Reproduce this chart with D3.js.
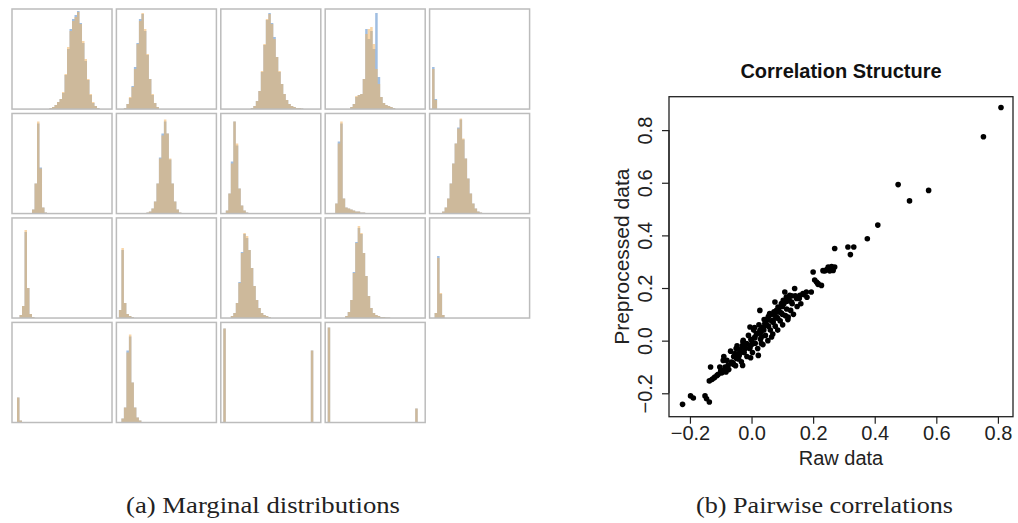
<!DOCTYPE html>
<html>
<head>
<meta charset="utf-8">
<script src="https://cdn.jsdelivr.net/npm/d3@7"></script>
<style>
  body { margin: 0; background: #fff; }
  svg { display: block; }
</style>
</head>
<body>
<script>
// ---- data ----
// marginal histograms: 19 panels, 40 bins each, [first bin, heights in % of panel]
var orangeHist = [
  [15, [1,2,4,7,10,17,35,62,78,88,92,97,85,68,50,30,15,7,3,1]],
  [3,  [1,5,12,22,40,65,88,96,80,55,30,15,6,2]],
  [12, [1,3,8,18,38,65,90,95,85,70,52,38,25,15,9,5,3,2,1,1,0.5]],
  [10, [2,5,13,14,15,30,75,80,82,65,40,25,12,6,4,3,2,1]],
  [1,  [40,9]],
  [8,  [4,30,92,45,6,1]],
  [12, [1,2,5,12,30,55,78,94,80,55,30,12,4,1]],
  [2,  [3,20,50,92,70,25,8,3,1]],
  [4,  [10,70,92,15,6,5,4,3,2,2,1,1,0.5]],
  [5,  [2,6,15,30,50,70,85,95,75,55,35,20,10,5,2,1,0.5]],
  [3,  [3,12,88,30,4,1]],
  [1,  [8,70,15,4,2,1]],
  [4,  [2,5,15,35,65,85,82,68,50,32,18,10,5,3,2,1]],
  [8,  [2,6,18,45,75,92,85,65,42,22,10,5,3,2,1,1,0.5,0.5]],
  [2,  [5,60,25,3]],
  [2,  [25,2]],
  [2,  [4,15,70,88,40,15,5,2]],
  [1,  [94,0,0,0,0,0,0,0,0,0,0,0,0,0,0,0,0,0,0,0,0,0,0,0,0,0,0,0,0,0,0,0,0,0,0,72]],
  [1,  [95,0,0,0,0,0,0,0,0,0,0,0,0,0,0,0,0,0,0,0,0,0,0,0,0,0,0,0,0,0,0,0,0,0,0,14]]
];
var blueHist = [
  [15, [1,2,4,7,10,16,34,60,80,90,94,98,86,66,48,29,14,6,3,1]],
  [3,  [1,5,11,23,42,66,90,95,78,54,30,14,6,2]],
  [12, [1,3,8,18,37,64,89,96,86,72,52,37,25,15,9,5,3,2,1,1,0.5]],
  [10, [2,5,12,14,15,30,80,70,78,60,96,32,12,6,4,3,2,1]],
  [1,  [42,10]],
  [8,  [4,30,90,46,6,1]],
  [12, [1,2,5,12,30,56,80,92,80,54,30,12,4,1]],
  [2,  [3,20,52,92,68,25,8,3,1]],
  [4,  [10,72,90,15,6,5,4,3,2,2,1,1,0.5]],
  [5,  [2,6,15,30,50,70,86,94,74,55,35,20,10,5,2,1,0.5]],
  [3,  [3,12,86,30,4,1]],
  [1,  [8,68,15,4,2,1]],
  [4,  [2,5,15,36,66,84,80,68,50,32,18,10,5,3,2,1]],
  [8,  [2,6,18,46,76,90,84,65,42,22,10,5,3,2,1,1,0.5,0.5]],
  [2,  [5,62,24,3]],
  [2,  [25,2]],
  [2,  [4,15,72,86,40,15,5,2]],
  [1,  [94,0,0,0,0,0,0,0,0,0,0,0,0,0,0,0,0,0,0,0,0,0,0,0,0,0,0,0,0,0,0,0,0,0,0,72]],
  [1,  [95,0,0,0,0,0,0,0,0,0,0,0,0,0,0,0,0,0,0,0,0,0,0,0,0,0,0,0,0,0,0,0,0,0,0,14]]
];

// pairwise correlations (171 pairs): raw vs preprocessed
var rawCor = [
  0.810, 0.753, 0.476, 0.575, 0.513, 0.410, 0.376, 0.313, 0.332, 0.321, 0.205, 0.216,
  -0.224, -0.198, -0.189, -0.151, -0.146, -0.137, -0.133, -0.137, -0.128, -0.119, -0.108, -0.097,
  -0.092, -0.083, -0.103, -0.092, -0.076, -0.065, -0.059, -0.049, -0.054, -0.040, -0.032, -0.029,
  -0.022, -0.027, -0.016, -0.005, 0.000, -0.005, -0.003, 0.022, 0.005, 0.011, 0.018, 0.027,
  0.027, 0.032, 0.038, 0.043, 0.049, 0.054, 0.059, 0.065, 0.032, 0.070, 0.076, 0.081,
  0.076, 0.086, 0.092, 0.097, 0.103, 0.108, 0.119, 0.113, 0.124, 0.130, 0.140, 0.146,
  0.157, 0.167, 0.178, 0.194, 0.200, 0.211, 0.216, 0.227, 0.238, 0.249, 0.259, 0.270,
  0.270, 0.254, 0.265,
  -0.090, -0.086, -0.080, -0.074, -0.068, -0.064, -0.058, -0.052, -0.047, -0.042, -0.038, -0.033,
  -0.028, -0.024, -0.019, -0.015, -0.010, -0.006, -0.002, 0.003, 0.007, 0.012, 0.016, 0.020,
  0.024, 0.029, 0.033, 0.037, 0.041, 0.045, 0.049, 0.053, 0.057, 0.061, 0.065, 0.069,
  0.073, 0.077, 0.081, 0.085, 0.089, 0.093, 0.097, 0.101, 0.105, 0.110, 0.114, 0.118,
  0.122, 0.127, 0.132, 0.136, 0.142, 0.148, 0.155, 0.160, 0.170, 0.180, -0.100, -0.112,
  -0.122, -0.060, -0.045, -0.020, 0.000, 0.010, 0.040, 0.055, 0.070, 0.085, 0.100, 0.010,
  0.030, 0.050, 0.065, 0.085, 0.100, 0.115, 0.130, -0.030, -0.050, 0.244, 0.252, 0.232,
  0.260
];
var preCor = [
  0.886, 0.775, 0.593, 0.571, 0.531, 0.439, 0.387, 0.356, 0.356, 0.327, 0.230, 0.217,
  -0.242, -0.210, -0.218, -0.210, -0.221, -0.233, -0.100, -0.153, -0.147, -0.138, -0.128, -0.123,
  -0.113, -0.119, -0.100, -0.075, -0.094, -0.081, -0.090, -0.068, -0.049, -0.056, -0.043, -0.094,
  -0.030, 0.001, -0.011, -0.024, 0.001, 0.052, -0.065, -0.056, -0.011, 0.014, 0.027, 0.039,
  0.115, 0.014, 0.052, 0.065, 0.077, 0.090, 0.103, 0.014, -0.011, 0.077, 0.096, 0.115,
  0.147, 0.128, 0.109, 0.141, 0.153, 0.185, 0.090, 0.166, 0.172, 0.147, 0.198, 0.160,
  0.172, 0.179, 0.185, 0.185, 0.261, 0.223, 0.214, 0.210, 0.265, 0.280, 0.274, 0.280,
  0.350, 0.265, 0.267,
  -0.060, -0.100, -0.075, -0.110, -0.040, -0.085, -0.060, -0.095, -0.020, -0.070, -0.035, -0.080,
  -0.005, -0.045, -0.015, -0.060, 0.020, -0.030, 0.005, -0.045, 0.040, -0.010, 0.025, -0.030,
  0.060, 0.005, 0.045, -0.015, 0.080, 0.020, 0.060, 0.000, 0.095, 0.040, 0.075, 0.025,
  0.110, 0.055, 0.090, 0.040, 0.125, 0.075, 0.105, 0.060, 0.140, 0.095, 0.120, 0.080,
  0.155, 0.115, 0.140, 0.100, 0.170, 0.130, 0.160, 0.140, 0.175, 0.165, -0.115, -0.132,
  -0.142, -0.085, -0.050, -0.030, -0.015, 0.010, 0.040, 0.055, 0.070, 0.085, 0.100, 0.050,
  0.030, 0.080, 0.100, 0.110, 0.130, 0.150, 0.170, -0.020, -0.030, 0.270, 0.276, 0.266,
  0.282
];
var xTicks = [-0.2, 0.0, 0.2, 0.4, 0.6, 0.8];
var yTicks = [-0.2, 0.0, 0.2, 0.4, 0.6, 0.8];

var W = 1018, H = 523;
var svg = d3.select("body").append("svg")
  .attr("width", W).attr("height", H);

// ---------- (a) marginal histograms ----------
var nCols = 5, nBins = 40;
var colBand = d3.scaleBand().domain(d3.range(nCols)).range([12, 529.6]).paddingInner(0.042);
var rowBand = d3.scaleBand().domain(d3.range(4)).range([9, 422.5]).paddingInner(0.042);
var pw = colBand.bandwidth(), ph = rowBand.bandwidth();
var bx = d3.scaleLinear().domain([0, nBins]).range([0, pw]);
var by = d3.scaleLinear().domain([0, 100]).range([ph, 0]);

var histArea = d3.area()
  .curve(d3.curveStepAfter)
  .x(function(d) { return bx(d.bin); })
  .y0(by(0))
  .y1(function(d) { return by(d.v); });

function bars(g, spec, fill, op) {
  var start = spec[0];
  var pts = spec[1].map(function(v, i) { return {bin: start + i, v: v}; });
  pts.push({bin: start + spec[1].length, v: 0});
  g.append("path")
    .attr("d", histArea(pts))
    .attr("fill", fill)
    .attr("fill-opacity", op);
}

orangeHist.forEach(function(spec, k) {
  var g = svg.append("g")
    .attr("transform", "translate(" + colBand(k % nCols) + "," + rowBand(Math.floor(k / nCols)) + ")");
  bars(g, blueHist[k], "rgb(65,125,195)", 0.5);
  bars(g, spec, "rgb(242,181,98)", 0.55);
  g.append("rect")
    .attr("width", pw).attr("height", ph)
    .attr("fill", "none")
    .attr("stroke", "#bcbcbc")
    .attr("stroke-width", 1.5);
});

// ---------- (b) correlation scatter ----------
var box = {l: 669, r: 1013, t: 96.7, b: 416.7};
var x = d3.scaleLinear().domain([-0.268, 0.849]).range([box.l, box.r]);
var y = d3.scaleLinear().domain([-0.289, 0.927]).range([box.b, box.t]);
var fmt = d3.format(".1f");
var font = "'Liberation Sans', Arial, Helvetica, sans-serif";

var gx = svg.append("g")
  .attr("transform", "translate(0," + box.b + ")")
  .call(d3.axisBottom(x).tickValues(xTicks).tickFormat(fmt).tickSize(7).tickSizeOuter(0).tickPadding(2));
var gy = svg.append("g")
  .attr("transform", "translate(" + box.l + ",0)")
  .call(d3.axisLeft(y).tickValues(yTicks).tickFormat(fmt).tickSize(7).tickSizeOuter(0));

[gx, gy].forEach(function(g) {
  g.attr("font-family", null).attr("font-size", null);
  g.select(".domain").attr("stroke", "#222").attr("stroke-width", 1.2)
    .attr("d", g === gx
      ? "M" + x(xTicks[0]) + ",0H" + x(xTicks[xTicks.length - 1])
      : "M0," + y(yTicks[0]) + "V" + y(yTicks[yTicks.length - 1]));
  g.selectAll(".tick line").attr("stroke", "#222").attr("stroke-width", 1.2);
  g.selectAll(".tick text").attr("fill", "#222")
    .style("font-family", font).style("font-size", "20px");
});
gy.selectAll(".tick text")
  .attr("transform", "rotate(-90)")
  .attr("x", 0).attr("y", -17).attr("dy", 0)
  .attr("text-anchor", "middle");

svg.append("rect")
  .attr("x", box.l).attr("y", box.t)
  .attr("width", box.r - box.l).attr("height", box.b - box.t)
  .attr("fill", "none").attr("stroke", "#222").attr("stroke-width", 1.3);

svg.append("g").selectAll("circle")
  .data(rawCor.map(function(v, i) { return [v, preCor[i]]; }))
  .enter().append("circle")
  .attr("cx", function(d) { return x(d[0]); })
  .attr("cy", function(d) { return y(d[1]); })
  .attr("r", 2.8)
  .attr("fill", "#000");

svg.append("text")
  .attr("x", (box.l + box.r) / 2).attr("y", 78)
  .attr("text-anchor", "middle")
  .style("font-family", font).style("font-size", "20px").style("font-weight", "bold")
  .attr("fill", "#111")
  .text("Correlation Structure");

svg.append("text")
  .attr("x", (box.l + box.r) / 2).attr("y", 465)
  .attr("text-anchor", "middle")
  .style("font-family", font).style("font-size", "20px")
  .attr("fill", "#222")
  .text("Raw data");

svg.append("text")
  .attr("transform", "translate(629," + (box.t + box.b) / 2 + ") rotate(-90)")
  .attr("text-anchor", "middle")
  .style("font-family", font).style("font-size", "21px")
  .attr("fill", "#222")
  .text("Preprocessed data");

// ---------- captions ----------
var serif = "'Liberation Serif', 'Times New Roman', serif";
svg.append("text")
  .attr("x", 126).attr("y", 513)
  .attr("textLength", 274).attr("lengthAdjust", "spacingAndGlyphs")
  .style("font-family", serif).style("font-size", "23px").attr("fill", "#222")
  .text("(a) Marginal distributions");
svg.append("text")
  .attr("x", 696).attr("y", 513)
  .attr("textLength", 257).attr("lengthAdjust", "spacingAndGlyphs")
  .style("font-family", serif).style("font-size", "23px").attr("fill", "#222")
  .text("(b) Pairwise correlations");
</script>
</body>
</html>
